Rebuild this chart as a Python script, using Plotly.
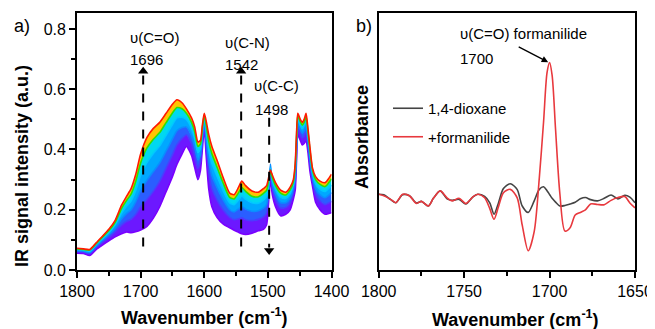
import plotly.graph_objects as go

# ---------------- Panel a) data ----------------
wn_a = [1800, 1790, 1780, 1770, 1760, 1750, 1740, 1730, 1722, 1715, 1708, 1700, 1690, 1680, 1670,
        1660, 1650, 1643, 1635, 1628, 1620, 1615, 1610, 1606, 1603, 1600, 1597, 1593, 1588, 1580,
        1570, 1560, 1553, 1546, 1541, 1535, 1525, 1515, 1507, 1502, 1499, 1496, 1493, 1488, 1480,
        1472, 1465, 1460, 1457, 1455, 1453, 1449, 1446, 1443, 1440, 1437, 1434, 1430, 1425, 1418,
        1410, 1404, 1400]

# top (red) spectrum
spec_red = [.072, .070, .068, .090, .112, .135, .165, .215, .245, .270, .315, .385, .440, .470, .490,
            .520, .550, .565, .555, .535, .505, .475, .425, .430, .480, .520, .495, .450, .410, .365,
            .305, .255, .250, .275, .295, .280, .262, .258, .270, .280, .305, .332, .315, .290, .265,
            .258, .275, .300, .355, .450, .520, .500, .490, .500, .520, .470, .410, .340, .310, .295,
            .290, .305, .318]
# green spectrum
spec_green = [.070, .068, .066, .087, .109, .130, .158, .204, .231, .252, .292, .355, .405, .434, .456,
              .489, .521, .539, .535, .520, .490, .459, .410, .418, .470, .514, .481, .428, .386, .342,
              .287, .241, .236, .257, .274, .261, .245, .243, .254, .264, .295, .328, .307, .280, .255,
              .249, .266, .292, .344, .439, .512, .492, .481, .490, .509, .460, .400, .333, .300, .284,
              .277, .291, .303]
# cyan spectrum
spec_cyan = [.068, .066, .062, .084, .104, .124, .150, .188, .212, .229, .262, .314, .357, .387, .412,
             .447, .483, .505, .507, .500, .470, .437, .390, .402, .458, .506, .463, .400, .354, .312,
             .262, .223, .217, .233, .246, .235, .223, .222, .232, .244, .281, .338, .297, .268, .241,
             .238, .254, .282, .330, .425, .500, .480, .469, .478, .495, .448, .388, .323, .286, .268,
             .261, .272, .282]
# light-blue spectrum
spec_sky = [.064, .063, .058, .079, .098, .117, .139, .169, .188, .200, .225, .264, .298, .327, .356,
            .395, .435, .462, .473, .475, .445, .410, .365, .382, .442, .496, .440, .364, .314, .274,
            .232, .200, .193, .203, .211, .202, .195, .197, .205, .218, .264, .352, .284, .252, .224,
            .223, .239, .269, .312, .407, .486, .466, .454, .462, .477, .432, .372, .311, .269, .249,
            .240, .249, .257]
# blue spectrum
spec_blue = [.061, .060, .054, .075, .092, .108, .127, .149, .162, .168, .183, .209, .234, .261, .294,
             .338, .382, .415, .436, .448, .418, .381, .338, .360, .424, .485, .415, .324, .270, .232,
             .198, .175, .167, .170, .173, .167, .164, .168, .176, .189, .246, .335, .270, .234, .206,
             .207, .223, .255, .292, .387, .471, .451, .438, .444, .457, .414, .354, .298, .251, .229,
             .217, .223, .228]
# bottom (violet) spectrum
spec_violet = [.056, .055, .048, .068, .083, .097, .110, .120, .126, .124, .127, .133, .145, .172, .210,
               .260, .310, .350, .385, .410, .380, .340, .300, .330, .400, .470, .380, .270, .210, .175,
               .152, .140, .132, .125, .120, .118, .122, .130, .135, .150, .220, .300, .250, .210, .180,
               .185, .200, .235, .265, .360, .450, .430, .415, .420, .430, .390, .330, .280, .225, .200,
               .185, .188, .190]

# ---------------- Panel b) data ----------------
wn_b = [1800, 1797, 1793, 1790, 1786, 1782, 1778, 1775, 1771, 1768, 1764, 1760, 1757, 1753, 1749,
        1745, 1742, 1738, 1735, 1732.5, 1730, 1727, 1723, 1719, 1716, 1712.5, 1709, 1706, 1703.5,
        1701.5, 1700, 1698.5, 1696.5, 1694, 1691, 1688, 1685, 1682, 1679, 1676, 1672, 1668, 1664,
        1660, 1656, 1653, 1650]
abs_dioxane = [.296, .294, .275, .263, .294, .290, .262, .268, .250, .280, .309, .278, .272, .276, .258,
               .285, .296, .287, .262, .218, .260, .318, .337, .315, .250, .225, .270, .315, .325,
               .310, .295, .280, .265, .250, .252, .258, .265, .278, .283, .275, .270, .280, .293,
               .278, .292, .285, .263]
abs_formanilide = [.296, .290, .276, .263, .296, .290, .260, .268, .250, .280, .309, .282, .270, .280, .260,
                   .285, .296, .282, .240, .198, .245, .302, .315, .283, .175, .075, .150, .360, .580,
                   .770, .810, .760, .550, .300, .152, .165, .215, .225, .235, .258, .256, .255, .272,
                   .283, .287, .262, .243]

# marked bands in panel a)
band_pos = [1696, 1542, 1498]
band_dir = ["up", "up", "down"]

x_ticks_a = [1800, 1700, 1600, 1500, 1400]
y_ticks_a = [0.0, 0.2, 0.4, 0.6, 0.8]
x_ticks_b = [1800, 1750, 1700, 1650]

# the page body adds an 8px offset; the figure is sized/positioned to compensate
OFF = 8
W, H = 655 - OFF, 329 - OFF
MT, MB = 13 - OFF, 59
PH = H - MT - MB


def px(x):
    return (x - OFF) / W


def py(y):
    return (270 - y) / PH


FONT = "Liberation Sans, Arial, sans-serif"
fig = go.Figure()

# stacked rainbow bands (bottom to top)
bands = [
    (spec_violet, "#7a00ff", None, None),
    (spec_blue, "#4a3cff", "tonexty", "#6c18ff"),
    (spec_sky, "#0a8cff", "tonexty", "#2a5eff"),
    (spec_cyan, "#00c8ff", "tonexty", "#00a8ff"),
    (spec_green, "#30e000", "tonexty", "#00d8f0"),
    (spec_red, "#ff1a00", "tonexty", "#ffc400"),
]
for vals, lc, fill, fc in bands:
    kw = dict(fill=fill, fillcolor=fc) if fill else {}
    fig.add_trace(go.Scatter(x=wn_a, y=vals, mode="lines", line=dict(color=lc, width=1.6, shape="spline", smoothing=0.6),
                             showlegend=False, hoverinfo="skip", xaxis="x", yaxis="y", **kw))

fig.add_trace(go.Scatter(x=wn_b, y=abs_dioxane, mode="lines", name="1,4-dioxane", legendgroup="g1",
                         line=dict(color="#444444", width=1.6, shape="spline", smoothing=0.8), xaxis="x2", yaxis="y2"))
fig.add_trace(go.Scatter(x=wn_b, y=abs_formanilide, mode="lines", name="+formanilide", legendgroup="g2",
                         line=dict(color="#e8393e", width=1.6, shape="spline", smoothing=0.8), xaxis="x2", yaxis="y2"))

# dashed marker lines with arrowheads (positions from band_pos)
for xb, d in zip(band_pos, band_dir):
    if d == "up":
        ys, tip, sym = [0.078, 0.655], 0.66, "triangle-up"
    else:
        ys, tip, sym = [0.505, 0.075], 0.065, "triangle-down"
    fig.add_trace(go.Scatter(x=[xb, xb], y=ys, mode="lines", line=dict(color="black", width=2, dash="dash"),
                             showlegend=False, hoverinfo="skip", xaxis="x", yaxis="y"))
    fig.add_trace(go.Scatter(x=[xb], y=[tip], mode="markers", marker=dict(symbol=sym, size=9, color="black"),
                             showlegend=False, hoverinfo="skip", xaxis="x", yaxis="y"))

axis_common = dict(showline=True, linecolor="black", linewidth=1.8, mirror=True, showgrid=False, zeroline=False,
                   ticks="outside", ticklen=6, tickwidth=1.6, tickcolor="black", automargin=False,
                   tickfont=dict(family=FONT, size=16, color="black"))

fig.update_layout(
    width=W, height=H, margin=dict(l=0, r=0, t=MT, b=MB, autoexpand=False),
    paper_bgcolor="white", plot_bgcolor="white",
    xaxis=dict(domain=[px(77), px(331.5)], range=[1800, 1400], tickvals=x_ticks_a,
               minor=dict(dtick=50, ticks="outside", ticklen=4, tickwidth=1.6, tickcolor="black"),
               anchor="y", **axis_common),
    yaxis=dict(domain=[0, 1], range=[0, 0.853], tickvals=y_ticks_a, tickformat=".1f",
               minor=dict(dtick=0.1, ticks="outside", ticklen=4, tickwidth=1.6, tickcolor="black"),
               anchor="x", **axis_common),
    xaxis2=dict(domain=[px(378.7), px(635)], range=[1800, 1650], tickvals=x_ticks_b,
                minor=dict(dtick=25, ticks="outside", ticklen=4, tickwidth=1.6, tickcolor="black"),
                anchor="y2", **axis_common),
    yaxis2=dict(domain=[0, 1], range=[0, 1.004], anchor="x2", showline=True, linecolor="black", linewidth=1.8,
                mirror=True, showgrid=False, zeroline=False, showticklabels=False, ticks="", automargin=False),
    legend=dict(x=px(388), y=py(92), xanchor="left", yanchor="top", bgcolor="rgba(0,0,0,0)",
                font=dict(family=FONT, size=15, color="black"), itemwidth=30, traceorder="grouped",
                tracegroupgap=6),
    font=dict(family=FONT, color="black"),
)

ann = []
# axis titles
title_font = dict(family=FONT, size=18, color="black")
ann.append(dict(text="<b>Wavenumber (cm<sup>-1</sup>)</b>", x=px(204), y=py(316), xref="paper", yref="paper",
                showarrow=False, font=title_font, xanchor="center", yanchor="middle"))
ann.append(dict(text="<b>Wavenumber (cm<sup>-1</sup>)</b>", x=px(515), y=py(318), xref="paper", yref="paper",
                showarrow=False, font=title_font, xanchor="center", yanchor="middle"))
ann.append(dict(text="<b>IR signal intensity (a.u.)</b>", x=px(22), y=py(166), xref="paper", yref="paper",
                showarrow=False, font=title_font, textangle=-90, xanchor="center", yanchor="middle"))
ann.append(dict(text="<b>Absorbance</b>", x=px(362), y=py(137), xref="paper", yref="paper",
                showarrow=False, font=title_font, textangle=-90, xanchor="center", yanchor="middle"))
# panel labels
ann.append(dict(text="a)", x=px(12), y=py(26), xref="paper", yref="paper", showarrow=False,
                font=dict(family=FONT, size=18, color="black"), xanchor="left", yanchor="middle"))
ann.append(dict(text="b)", x=px(354), y=py(26), xref="paper", yref="paper", showarrow=False,
                font=dict(family=FONT, size=18, color="black"), xanchor="left", yanchor="middle"))

lab_font = dict(family=FONT, size=15, color="black")
for txt, x, y in [("υ(C=O)", 1720, .771), ("1696", 1720, .698), ("υ(C-N)", 1570, .754),
                  ("1542", 1570, .681), ("υ(C-C)", 1525, .611), ("1498", 1523, .532)]:
    ann.append(dict(text=txt, x=x, y=y, xref="x", yref="y", showarrow=False, font=lab_font,
                    xanchor="left", yanchor="middle"))

# panel b annotation
ann.append(dict(text="υ(C=O) formanilide", x=1753.6, y=.922, xref="x2", yref="y2", showarrow=False,
                font=lab_font, xanchor="left", yanchor="middle"))
ann.append(dict(text="1700", x=1753.6, y=.828, xref="x2", yref="y2", showarrow=False,
                font=lab_font, xanchor="left", yanchor="middle"))
ann.append(dict(x=1700.8, y=.812, xref="x2", yref="y2", ax=-31, ay=-16, showarrow=True, arrowhead=2,
                arrowsize=1, arrowwidth=1.3, arrowcolor="black", text=""))

fig.update_layout(annotations=ann)

fig.write_html("out.html")
